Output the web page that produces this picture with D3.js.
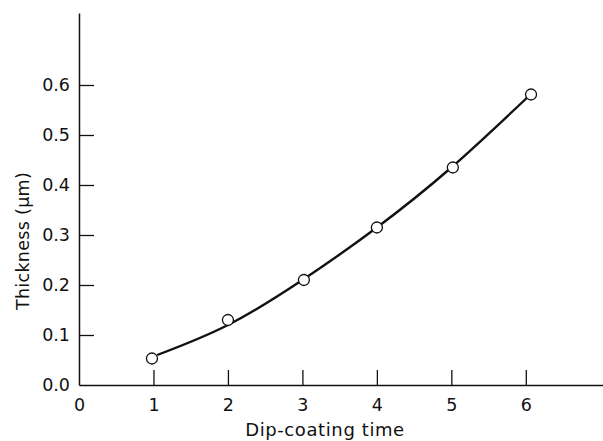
<!DOCTYPE html>
<html>
<head>
<meta charset="utf-8">
<script src="https://cdn.jsdelivr.net/npm/d3@7"></script>
<style>
  body { margin: 0; background: #fff; }
  svg { display: block; }
</style>
</head>
<body>
<script>
// measured points
let timeValues = [0.98, 2.0, 3.02, 4.0, 5.02, 6.07];
let thicknessValues = [0.053, 0.13, 0.21, 0.315, 0.435, 0.581];

// fitted curve
let curveTime = [1.05, 2, 3, 4, 5, 6.02];
let curveThickness = [0.060, 0.120, 0.210, 0.315, 0.435, 0.575];

let xTicks = [0, 1, 2, 3, 4, 5, 6];
let yTicks = [0.0, 0.1, 0.2, 0.3, 0.4, 0.5, 0.6];

let canvasW = 603;
let canvasH = 441;
let font = "'DejaVu Sans', sans-serif";

let svg = d3.select("body").append("svg")
  .attr("width", canvasW)
  .attr("height", canvasH)
  .style("background-color", "#fff");

let x = d3.scaleLinear().domain([0, 7.05]).range([79, 604]);
let y = d3.scaleLinear().domain([0, 0.744]).range([385, 13]);

// axes: ticks point inward
let xAxis = svg.append("g")
  .attr("transform", "translate(0," + y(0) + ")")
  .call(d3.axisBottom(x).tickValues(xTicks).tickSize(-15).tickPadding(14).tickSizeOuter(0).tickFormat(d3.format("d")));

let yAxis = svg.append("g")
  .attr("transform", "translate(" + x(0) + ",0)")
  .call(d3.axisLeft(y).tickValues(yTicks).tickSize(-15).tickPadding(9).tickSizeOuter(0).tickFormat(d3.format(".1f")));

[xAxis, yAxis].forEach(ax => {
  ax.select(".domain").attr("stroke", "#111").attr("stroke-width", 1.5);
  ax.selectAll(".tick line").attr("stroke", "#111").attr("stroke-width", 1.3);
  ax.selectAll(".tick text")
    .attr("fill", "#111")
    .attr("font-family", font)
    .attr("font-size", "17.5px");
});
// no tick mark at the origin
xAxis.selectAll(".tick").filter(d => d === 0).select("line").remove();
yAxis.selectAll(".tick").filter(d => d === 0).select("line").remove();

// fitted curve
let line = d3.line()
  .x(d => x(d[0]))
  .y(d => y(d[1]))
  .curve(d3.curveNatural);

svg.append("path")
  .datum(d3.zip(curveTime, curveThickness))
  .attr("fill", "none")
  .attr("stroke", "#111")
  .attr("stroke-width", 2.4)
  .attr("d", line);

// data points
svg.selectAll("circle.pt")
  .data(d3.zip(timeValues, thicknessValues))
  .enter().append("circle")
  .attr("class", "pt")
  .attr("cx", d => x(d[0]))
  .attr("cy", d => y(d[1]))
  .attr("r", 5.5)
  .attr("fill", "#fff")
  .attr("stroke", "#111")
  .attr("stroke-width", 1.3);

// axis titles
svg.append("text")
  .attr("x", 325)
  .attr("y", 436)
  .attr("text-anchor", "middle")
  .attr("font-family", font)
  .attr("font-size", "18px")
  .attr("letter-spacing", "0.6px")
  .attr("fill", "#111")
  .text("Dip-coating time");

svg.append("text")
  .attr("transform", "translate(29,241) rotate(-90)")
  .attr("text-anchor", "middle")
  .attr("font-family", font)
  .attr("font-size", "17.5px")
  .attr("letter-spacing", "0.3px")
  .attr("fill", "#111")
  .text("Thickness (μm)");
</script>
</body>
</html>
